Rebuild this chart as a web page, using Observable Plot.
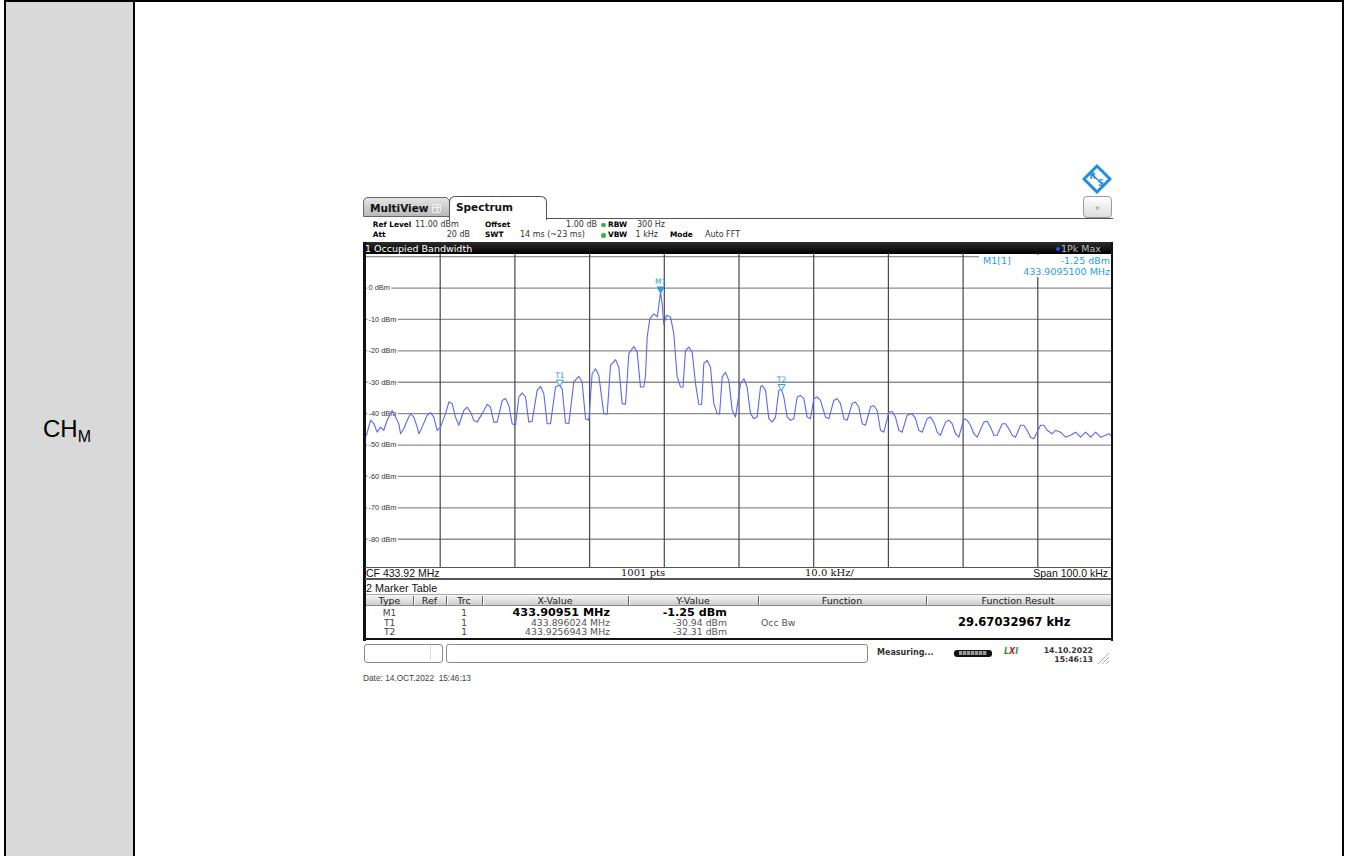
<!DOCTYPE html>
<html><head><meta charset="utf-8">
<script src="https://cdn.jsdelivr.net/npm/d3@7"></script>
<script src="https://cdn.jsdelivr.net/npm/@observablehq/plot@0.6"></script>
<style>
body{margin:0;background:#fff;}
#page{position:relative;width:1349px;height:856px;overflow:hidden;font-family:"DejaVu Sans",sans-serif;background:#fff;}
.a{position:absolute;white-space:pre;}
.box{position:absolute;box-sizing:border-box;}
</style></head>
<body><div id="page"></div>
<script>
// ---------------- data ----------------
const centerMHz = 433.92;
const spanKHz = 100;
// trace: [frequency offset from CF (kHz), level (dBm)]
const trace = [
[-49.87,-46.9],[-49.33,-42.1],[-48.88,-43.2],[-48.44,-45.9],[-47.99,-44.3],[-47.55,-45.3],[-47.10,-42.1],[-46.43,-39.0],
[-45.98,-41.1],[-45.54,-43.2],[-45.31,-46.4],[-44.87,-44.8],[-44.42,-42.1],[-43.98,-40.0],[-43.53,-41.1],[-43.08,-44.3],
[-42.86,-46.4],[-42.42,-44.3],[-41.75,-40.5],[-41.30,-39.7],[-40.85,-41.1],[-40.41,-45.3],[-39.96,-44.3],[-39.29,-40.0],
[-38.84,-36.3],[-38.40,-36.8],[-37.95,-41.1],[-37.51,-43.7],[-36.84,-39.0],[-36.39,-37.9],[-35.94,-39.5],[-35.50,-42.1],
[-35.05,-42.7],[-34.38,-40.0],[-33.71,-37.0],[-33.27,-37.9],[-32.82,-42.7],[-32.37,-42.7],[-31.70,-35.8],[-31.26,-35.2],
[-30.81,-37.4],[-30.37,-43.2],[-29.92,-43.7],[-29.47,-34.7],[-29.03,-33.4],[-28.58,-34.7],[-28.14,-42.7],[-27.69,-42.4],
[-27.02,-32.6],[-26.57,-31.3],[-26.13,-33.6],[-25.68,-43.2],[-25.23,-43.2],[-24.56,-31.5],[-24.03,-30.9],[-23.67,-32.1],
[-23.23,-43.0],[-22.78,-43.2],[-22.11,-29.9],[-21.44,-28.1],[-21.00,-29.9],[-20.55,-41.6],[-20.10,-42.1],[-19.66,-27.3],
[-19.21,-25.7],[-18.77,-27.8],[-18.10,-40.0],[-17.65,-40.2],[-17.20,-24.6],[-16.53,-22.8],[-16.09,-25.2],[-15.64,-36.8],
[-15.19,-37.0],[-14.75,-20.9],[-14.08,-18.6],[-13.63,-20.4],[-13.19,-31.5],[-12.74,-31.5],[-12.52,-28.0],[-12.29,-15.6],
[-11.94,-9.8],[-11.40,-8.2],[-10.95,-9.2],[-10.75,-6.0],[-10.51,-1.25],[-10.29,-5.0],[-10.07,-11.6],[-9.71,-8.7],
[-9.17,-9.2],[-8.73,-14.5],[-8.28,-28.3],[-7.83,-31.5],[-7.50,-31.6],[-7.16,-19.9],[-6.71,-18.8],[-6.27,-20.4],
[-5.82,-30.5],[-5.38,-37.0],[-5.00,-37.1],[-4.71,-24.1],[-4.26,-23.0],[-3.82,-25.2],[-3.37,-36.8],[-2.92,-40.0],
[-2.60,-40.1],[-2.25,-28.3],[-1.81,-26.8],[-1.36,-29.4],[-0.91,-38.9],[-0.47,-41.1],[-0.02,-34.0],[0.20,-30.5],
[0.65,-28.9],[1.09,-31.5],[1.54,-40.0],[1.99,-41.6],[2.43,-41.1],[2.88,-31.5],[3.10,-31.0],[3.55,-32.6],
[3.99,-41.6],[4.44,-42.7],[4.89,-41.1],[5.33,-32.6],[5.69,-32.3],[6.00,-34.7],[6.45,-41.1],[6.89,-42.1],
[7.34,-41.6],[7.79,-34.7],[8.23,-34.2],[8.68,-35.2],[9.12,-41.1],[9.57,-41.6],[10.02,-35.2],[10.46,-34.7],
[10.91,-35.8],[11.58,-41.1],[12.03,-41.6],[12.69,-35.8],[13.14,-35.2],[13.59,-36.8],[14.03,-41.6],[14.48,-42.1],
[15.15,-36.8],[15.59,-36.3],[16.04,-37.9],[16.49,-43.2],[16.93,-43.7],[17.60,-37.9],[18.05,-37.4],[18.50,-39.0],
[18.94,-45.3],[19.39,-45.9],[20.06,-39.5],[20.50,-39.3],[20.95,-41.1],[21.40,-45.3],[21.84,-45.9],[22.51,-40.5],
[23.18,-40.0],[23.63,-41.6],[24.07,-45.3],[24.52,-45.9],[25.19,-41.6],[25.63,-41.1],[26.08,-42.7],[26.53,-45.9],
[26.97,-46.9],[27.64,-42.7],[28.09,-42.1],[28.54,-43.2],[28.98,-46.4],[29.43,-47.5],[30.10,-41.6],[30.54,-42.1],
[30.99,-43.7],[31.44,-46.4],[31.88,-47.5],[32.78,-42.7],[33.22,-42.4],[33.67,-44.3],[34.12,-46.9],[34.56,-46.9],
[35.23,-43.2],[35.68,-43.2],[36.12,-44.8],[36.57,-46.9],[37.02,-47.5],[37.69,-43.7],[38.13,-43.7],[38.58,-45.3],
[39.02,-47.5],[39.47,-48.0],[40.36,-43.7],[40.81,-43.7],[41.26,-45.3],[41.93,-46.4],[42.37,-45.3],[43.04,-45.9],
[43.71,-47.5],[44.38,-46.9],[45.06,-45.9],[45.73,-47.5],[46.40,-45.9],[47.07,-47.5],[47.74,-45.9],[48.41,-47.5],
[49.08,-46.9],[49.53,-46.4],[49.98,-47.5]
];
const markerNames = ["M1","T1","T2"];
const markerMHz = [433.90951, 433.896024, 433.9256943];
const markerDBm = [-1.25, -30.94, -32.31];
const markerXText = ["433.90951 MHz","433.896024 MHz","433.9256943 MHz"];
const markerYText = ["-1.25 dBm","-30.94 dBm","-32.31 dBm"];
const levelGrid = [10,0,-10,-20,-30,-40,-50,-60,-70,-80];
const levelLabels = [0,-10,-20,-30,-40,-50,-60,-70,-80];
const freqGrid = [-40,-30,-20,-10,0,10,20,30,40];

// ---------------- helpers ----------------
const page = document.getElementById('page');
function B(x,y,w,h,css){const d=document.createElement('div');d.className='box';
  Object.assign(d.style,{left:x+'px',top:y+'px',width:w+'px',height:h+'px'},css||{});page.appendChild(d);return d;}
function T(str,x,y,o={}){const d=document.createElement('div');d.className='a';d.textContent=str;
  const ax=o.align==='right'?'-100%':o.align==='center'?'-50%':'0';
  Object.assign(d.style,{left:x+'px',top:y+'px',transform:`translate(${ax},-50%)`,fontSize:(o.size||8)+'px',
    fontWeight:o.bold?'bold':'normal',color:o.color||'#000',fontFamily:o.font||'"DejaVu Sans"',lineHeight:'1'});
  page.appendChild(d);return d;}

// ---------------- document table ----------------
B(6,2,127,854,{background:'#d9d9d9'});
B(4,0,1340,2,{background:'#000'});
B(4,0,2,856,{background:'#000'});
B(133,0,2,856,{background:'#000'});
B(1342,0,2,856,{background:'#000'});
const ch=document.createElement('div');ch.className='a';
Object.assign(ch.style,{left:'43px',top:'417px',fontFamily:'"Liberation Sans",Arial',fontSize:'24px',lineHeight:'24px',color:'#000'});
ch.innerHTML='CH<span style="font-size:16px;vertical-align:-4.5px">M</span>';page.appendChild(ch);

// ---------------- instrument header ----------------
const logo=document.createElement('div');logo.className='a';
Object.assign(logo.style,{left:'1082px',top:'164px'});
logo.innerHTML='<svg width="30" height="30"><polygon points="15,2 28,15 15,28 2,15" fill="#fff" stroke="#1e8fe0" stroke-width="3"/><line x1="8.5" y1="8.5" x2="21.5" y2="21.5" stroke="#1e8fe0" stroke-width="1.2"/><text x="10.5" y="15" font-size="8" font-weight="bold" fill="#1e8fe0" font-family="DejaVu Sans" text-anchor="middle">R</text><text x="19" y="22" font-size="8" font-weight="bold" fill="#1e8fe0" font-family="DejaVu Sans" text-anchor="middle">S</text></svg>';
page.appendChild(logo);
B(1083,196,29,22,{border:'1px solid #9a9a9a',borderRadius:'4px',background:'linear-gradient(#ffffff,#dcdcdc)'});
T('▼',1097.5,207.5,{size:5,color:'#aaa',align:'center'});

B(546,218,567,1.2,{background:'#555'});
B(363,197,87,20,{background:'linear-gradient(#e4e4e4,#b9b9b9)',border:'1px solid #666',borderRadius:'5px 5px 0 0'});
T('MultiView',370,207.5,{size:10.5,bold:true,color:'#111'});
B(431.5,203.5,9,9,{border:'1px solid #f2f2f2',borderRadius:'2px',background:'linear-gradient(90deg,transparent 3.5px,#f2f2f2 3.5px,#f2f2f2 4.5px,transparent 4.5px),linear-gradient(0deg,transparent 3.5px,#f2f2f2 3.5px,#f2f2f2 4.5px,transparent 4.5px)'});
B(449,196,98,24,{background:'#fff',border:'1px solid #555',borderBottom:'none',borderRadius:'6px 6px 0 0'});
T('Spectrum',456,207,{size:10.5,bold:true,color:'#111'});

const r1=224.5,r2=235,ls=7.4,vs=8;
T('Ref Level',372.7,r1,{size:ls,bold:true});T('11.00 dBm',415,r1,{size:vs,color:'#333'});
T('Offset',485,r1,{size:ls,bold:true});T('1.00 dB',597,r1,{size:vs,color:'#333',align:'right'});
B(601,222.5,4.5,4.5,{background:'#3cb043',borderRadius:'50%'});
T('RBW',608,r1,{size:ls,bold:true});T('300 Hz',637,r1,{size:vs,color:'#333'});
T('Att',372.7,r2,{size:ls,bold:true});T('20 dB',470,r2,{size:vs,color:'#333',align:'right'});
T('SWT',485,r2,{size:ls,bold:true});T('14 ms (~23 ms)',520,r2,{size:vs,color:'#333'});
B(601,233,4.5,4.5,{background:'#3cb043',borderRadius:'50%'});
T('VBW',608,r2,{size:ls,bold:true});T('1 kHz',658,r2,{size:vs,color:'#333',align:'right'});
T('Mode',670,r2,{size:ls,bold:true});T('Auto FFT',705,r2,{size:vs,color:'#333'});

// title bar
B(363,242,750,12,{background:'linear-gradient(#2c2c2c,#000)'});
T('1 Occupied Bandwidth',365,248.5,{size:9.5,color:'#fff'});
B(1055.5,246.5,4,4,{background:'#2050ff',borderRadius:'50%'});
T('1Pk Max',1061,248.5,{size:9.5,color:'#bbb'});

// ---------------- the plot ----------------
const traceData = trace.map(([k,v])=>({k,v}));
const markers = markerNames.map((n,i)=>({n,k:(markerMHz[i]-centerMHz)*1000,v:markerDBm[i]}));
const mk='#26a0e4';
const plot = Plot.plot({
  width:747, height:314, margin:0,
  x:{domain:[-spanKHz/2, spanKHz/2], axis:null},
  y:{domain:[-89, 11], axis:null},
  style:{background:'transparent',overflow:'visible'},
  marks:[
    Plot.ruleY(levelGrid,{stroke:'#8e8e8e',strokeWidth:1.3}),
    Plot.ruleX(freqGrid,{stroke:'#474747',strokeWidth:1.2}),
    Plot.text(levelLabels,{y:d=>d,frameAnchor:'left',dx:3,text:d=>`${d} dBm`,textAnchor:'start',fontSize:7.4,
      fontFamily:'"Liberation Sans"',fill:'#333',stroke:'#fff',strokeWidth:3.5}),
    Plot.line(traceData,{x:'k',y:'v',stroke:'#5b68ee',strokeWidth:1.1}),
    Plot.dot(markers,{x:'k',y:'v',symbol:'triangle',rotate:180,r:2.6,dy:-3,
      fill:d=>d.n==='M1'?mk:'#fff',stroke:mk,strokeWidth:1}),
    Plot.text(markers,{x:'k',y:'v',text:'n',dy:-10,fill:mk,fontSize:7.5,fontFamily:'"DejaVu Sans"'})
  ]
});
const holder=document.createElement('div');holder.className='a';
Object.assign(holder.style,{left:'365px',top:'253px',width:'747px',height:'314px'});
holder.appendChild(plot);page.appendChild(holder);

// marker info box
B(979,254.5,132,22.5,{background:'#fff'});
T(`${markerNames[0]}[1]`,983,260.5,{size:9.5,color:mk});
T(markerYText[0],1110,260.5,{size:9.5,color:mk,align:'right'});
T(`${markerMHz[0].toFixed(7)} MHz`,1110,271.5,{size:9.5,color:mk,align:'right'});

// frame borders
B(363,242,2.6,399,{background:'#111'});
B(1110.6,242,2.6,399,{background:'#111'});
B(363,638,750,2.4,{background:'#111'});

// CF bar
B(365,567,746,1.2,{background:'#555'});
B(365,578,746,2,{background:'#555'});
T(`CF ${centerMHz} MHz`,366,573,{size:10.5,font:'"Liberation Sans"',color:'#111'});
T('1001 pts',621,573,{size:10,font:'"DejaVu Serif"',color:'#111'});
T(`${(spanKHz/10).toFixed(1)} kHz/`,805,573,{size:10,font:'"DejaVu Serif"',color:'#111'});
T(`Span ${spanKHz.toFixed(1)} kHz`,1108,573,{size:10.5,font:'"Liberation Sans"',color:'#111',align:'right'});

// ---------------- marker table ----------------
T('2 Marker Table',366,588,{size:10.8,font:'"Liberation Sans"',color:'#111'});
B(366,594,745,12,{background:'linear-gradient(#f6f6f6,#cdcdcd)',borderTop:'1px solid #aaa',borderBottom:'1px solid #888'});
[413,446,482,628,758,926].forEach(x=>{B(x,596,1,9,{background:'#666'});B(x+1,596,1,9,{background:'#fff'});});
const hy=600.5;
T('Type',389.5,hy,{size:9.5,align:'center',color:'#222'});
T('Ref',429.5,hy,{size:9.5,align:'center',color:'#222'});
T('Trc',464,hy,{size:9.5,align:'center',color:'#222'});
T('X-Value',555,hy,{size:9.5,align:'center',color:'#222'});
T('Y-Value',693,hy,{size:9.5,align:'center',color:'#222'});
T('Function',842,hy,{size:9.5,align:'center',color:'#222'});
T('Function Result',1018,hy,{size:9.5,align:'center',color:'#222'});
const rowsY=[612.5,622.5,632];
markerNames.forEach((n,i)=>{
  const y=rowsY[i], bold=i===0;
  T(n,389.5,y,{size:9,align:'center',color:'#444'});
  T('1',464,y,{size:9,align:'center',color:'#444'});
  T(markerXText[i],610,y,{size:bold?11.2:9.3,bold,align:'right',color:bold?'#000':'#555'});
  T(markerYText[i],727,y,{size:bold?11.2:9.3,bold,align:'right',color:bold?'#000':'#555'});
});
T('Occ Bw',761,622.5,{size:9.3,color:'#555'});
T('29.67032967 kHz',958,622.5,{size:11.5,bold:true,color:'#000'});

// ---------------- status bar ----------------
B(364,643.5,79,19,{border:'1px solid #8a8a8a',borderRadius:'3px',background:'#fff'});
B(430,645,1,16,{background:'#ddd'});
B(446,643.5,422,19,{border:'1px solid #8a8a8a',borderRadius:'3px',background:'#fff'});
T('Measuring...',877,653,{size:8,bold:true,color:'#333'});
B(954,649.5,38,7,{background:'#111',borderRadius:'3px'});
B(959,651,28,4,{background:'repeating-linear-gradient(90deg,#9a9a9a 0 3px,#444 3px 4px)'});
const lxi=document.createElement('div');lxi.className='a';
Object.assign(lxi.style,{left:'1004px',top:'648px',fontSize:'8px',fontWeight:'bold',fontStyle:'italic',fontFamily:'"DejaVu Sans"',lineHeight:'1'});
lxi.innerHTML='<span style="color:#2a9a2a">L</span><span style="color:#c02020">X</span><span style="color:#2a9a2a">I</span>';
page.appendChild(lxi);
T('14.10.2022',1093,651,{size:7.8,bold:true,color:'#333',align:'right'});
T('15:46:13',1093,659.5,{size:7.8,bold:true,color:'#333',align:'right'});
const grip=document.createElement('div');grip.className='a';
Object.assign(grip.style,{left:'1097px',top:'650px'});
grip.innerHTML='<svg width="13" height="13"><g stroke="#aaa" stroke-width="1"><line x1="12" y1="1" x2="1" y2="12"/><line x1="12" y1="5" x2="5" y2="12"/><line x1="12" y1="9" x2="9" y2="12"/></g></svg>';
page.appendChild(grip);

T('Date: 14.OCT.2022  15:46:13',363,677.5,{size:8.3,font:'"Liberation Sans"',color:'#444'});
</script>
</body></html>
